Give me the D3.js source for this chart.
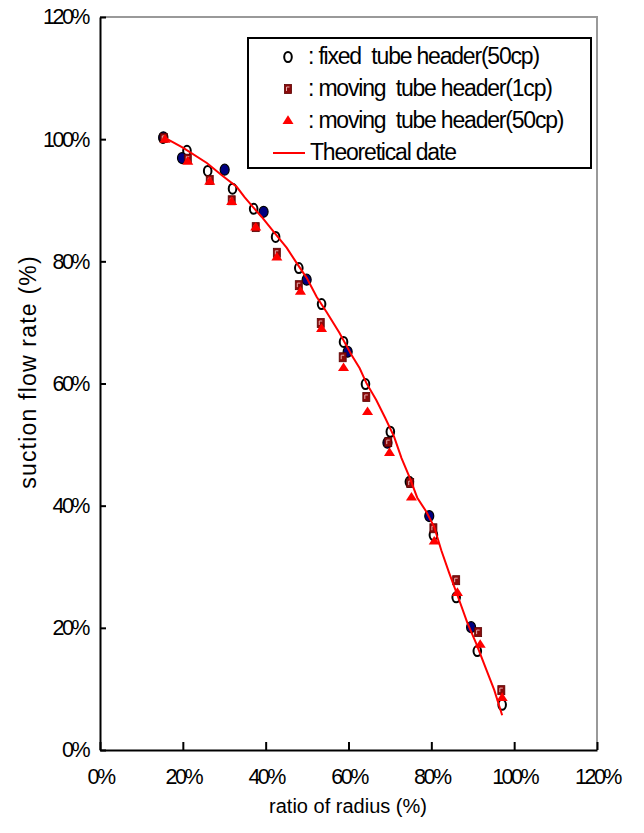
<!DOCTYPE html>
<html>
<head>
<meta charset="utf-8">
<script src="https://cdn.jsdelivr.net/npm/d3@7"></script>
<style>
  body { margin: 0; background: #fff; }
  text { font-family: "Liberation Sans", Arial, sans-serif; fill: #000; }
</style>
</head>
<body>
<div id="chart"></div>
<script>
const W = 644, H = 833;
const margin = { top: 17, right: 47, bottom: 83, left: 100 };
const graph_width = W - margin.left - margin.right;
const graph_height = H - margin.top - margin.bottom;

// x = ratio of radius (%), y = suction flow rate (%)
const fixed50 = [[15.2,100.2],[21.0,98.1],[26.0,94.8],[32.0,91.9],[37.1,88.6],[42.4,84.0],[48.0,78.9],[53.5,73.0],
  [58.8,66.8],[64.1,59.9],[70.1,52.1],[74.7,43.9],[80.5,35.2],[86.0,25.0],[91.1,16.2],[97.1,7.4]];
const fixedFilled = [[15.3,100.3],[19.8,96.9],[30.1,95.0],[39.5,88.1],[49.9,77.0],[59.8,65.2],[69.4,50.3],[79.5,38.3],[89.6,20.1]];
const moving1 = [[15.4,100.2],[21.2,96.8],[26.5,93.3],[31.8,90.0],[37.6,85.6],[42.7,81.4],[48.0,76.1],[53.3,69.9],
  [58.6,64.3],[64.3,57.8],[69.6,50.4],[74.9,43.7],[80.5,36.3],[86.0,27.8],[91.3,19.3],[96.9,9.8]];
const moving50 = [[15.7,99.9],[21.2,96.3],[26.5,93.0],[31.8,89.7],[37.6,85.5],[42.7,80.6],[48.4,75.0],[53.5,68.9],
  [58.8,62.5],[64.6,55.3],[69.9,48.6],[75.2,41.3],[80.7,34.1],[86.3,25.7],[91.8,17.2],[97.1,8.5]];
const theory = [[15.7,100.2],[20.0,98.6],[25.8,96.1],[29.4,94.1],[33.0,92.2],[34.9,90.5],[36.9,88.9],[39.0,87.3],
  [42.2,84.6],[45.1,82.2],[47.5,79.7],[49.9,77.3],[52.3,74.2],[54.7,71.7],[57.8,68.3],[60.7,64.7],[62.7,62.5],
  [64.3,60.1],[66.7,57.3],[68.9,54.3],[71.0,51.3],[72.8,47.8],[74.7,44.7],[76.6,41.3],[78.8,39.0],[80.7,36.5],
  [82.4,32.7],[84.3,29.0],[86.7,24.6],[88.7,20.8],[90.8,17.5],[93.3,13.1],[95.2,9.8],[97.1,5.7]];

const xTicks = [0, 20, 40, 60, 80, 100, 120];
const yTicks = [0, 20, 40, 60, 80, 100, 120];
const legendLabels = [": fixed  tube header(50cp)", ": moving  tube header(1cp)", ": moving  tube header(50cp)", "Theoretical date"];
const xTitle = "ratio of radius (%)";
const yTitle = "suction flow rate (%)";

const svg = d3.select("#chart").append("svg").attr("width", W).attr("height", H);
const g = svg.append("g").attr("transform", `translate(${margin.left},${margin.top})`);

const xScale = d3.scaleLinear().domain([0, 120]).range([0, graph_width]);
const yScale = d3.scaleLinear().domain([0, 120]).range([graph_height, 0]);

// grey frame top/right
g.append("path")
  .attr("d", `M0,0H${graph_width}V${graph_height}`)
  .attr("fill", "none").attr("stroke", "#999").attr("stroke-width", 2);

const xAxis = d3.axisBottom(xScale).tickValues(xTicks).tickFormat(d => d + "%").tickSizeInner(-8).tickSizeOuter(0).tickPadding(19);
const yAxis = d3.axisLeft(yScale).tickValues(yTicks).tickFormat(d => d + "%").tickSizeInner(-6).tickSizeOuter(0).tickPadding(12);

const gx = g.append("g").attr("transform", `translate(0,${graph_height})`).call(xAxis);
const gy = g.append("g").call(yAxis);
[gx, gy].forEach(a => {
  a.select(".domain").attr("stroke", "#000").attr("stroke-width", 2);
  a.selectAll(".tick line").attr("stroke", "#000").attr("stroke-width", 2);
  a.selectAll("text").style("font-size", "21.5px").style("letter-spacing", "-2.5px")
    .attr("font-family", null).attr("fill", "#000");
});

// axis titles
svg.append("text").attr("x", 348).attr("y", 813).attr("text-anchor", "middle")
  .style("font-size", "20px").text(xTitle);
svg.append("text").attr("transform", "translate(36,372) rotate(-90)").attr("text-anchor", "middle")
  .style("font-size", "23px").style("letter-spacing", "1.2px").text(yTitle);

// marker helpers
function openCircle(sel) {
  sel.append("ellipse").attr("rx", 3.8).attr("ry", 5)
    .attr("fill", "none").attr("stroke", "#000").attr("stroke-width", 2);
}
function filledCircle(sel) {
  sel.append("ellipse").attr("rx", 4.5).attr("ry", 5.5)
    .attr("fill", "#000080").attr("stroke", "#000").attr("stroke-width", 1.2);
}
function square(sel) {
  sel.append("rect").attr("x", -3.5).attr("y", -4.5).attr("width", 7).attr("height", 9)
    .attr("fill", "#8b0a0a").attr("stroke", "#5a0000").attr("stroke-width", 0.8);
  sel.append("path").attr("d", "M-1.5,2V-2H1.5").attr("fill", "none")
    .attr("stroke", "#e8b0b0").attr("stroke-width", 1);
}
const tri = d3.symbol().type(d3.symbolTriangle).size(48);
function triangle(sel) {
  sel.append("path").attr("d", tri).attr("transform", "scale(1.05,0.95)").attr("fill", "#ff0000");
}

function plotPoints(data, drawFn) {
  g.append("g").selectAll("g").data(data).enter().append("g")
    .attr("transform", d => `translate(${xScale(d[0])},${yScale(d[1])})`)
    .call(drawFn);
}
plotPoints(fixed50, openCircle);
plotPoints(fixedFilled, filledCircle);
plotPoints(moving1, square);
plotPoints(moving50, triangle);

const line = d3.line().curve(d3.curveLinear).x(d => xScale(d[0])).y(d => yScale(d[1]));
g.append("path").datum(theory).attr("d", line)
  .attr("fill", "none").attr("stroke", "#ff0000").attr("stroke-width", 2);

// legend
const lg = svg.append("g");
lg.append("rect").attr("x", 248).attr("y", 38).attr("width", 343).attr("height", 130)
  .attr("fill", "#fff").attr("stroke", "#000").attr("stroke-width", 2);
const rows = [57, 89, 121, 153];
const symbols = [openCircle, square, triangle, null];
legendLabels.forEach((lab, i) => {
  const s = lg.append("g").attr("transform", `translate(288,${rows[i]})`);
  if (symbols[i]) s.call(symbols[i]);
  else s.append("line").attr("x1", -15).attr("x2", 17).attr("stroke", "#ff0000").attr("stroke-width", 2);
  lg.append("text").attr("x", i === 3 ? 310 : 308).attr("y", rows[i] + 7)
    .style("font-size", "23px").style("letter-spacing", "-1.2px").style("white-space", "pre")
    .text(lab);
});
</script>
</body>
</html>
